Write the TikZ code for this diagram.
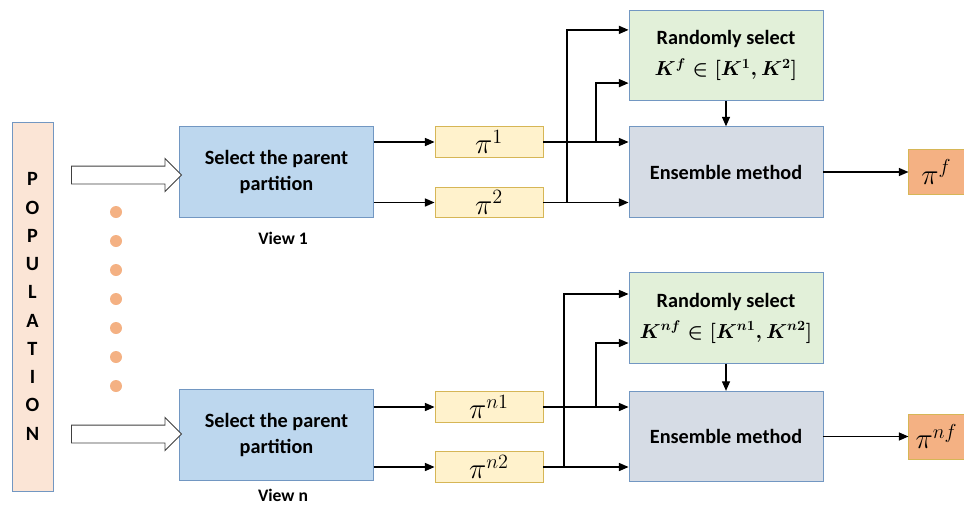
\documentclass[tikz,border=0pt]{standalone}
\usepackage{fontspec}
\setmainfont{Carlito}
\usetikzlibrary{positioning,arrows.meta,shapes.arrows}

\definecolor{popfill}{HTML}{FBE5D6}
\definecolor{selfill}{HTML}{BDD7EE}
\definecolor{pifill}{HTML}{FFF2CC}
\definecolor{rndfill}{HTML}{E2F0D9}
\definecolor{ensfill}{HTML}{D6DCE5}
\definecolor{outfill}{HTML}{F4B183}
\definecolor{blueline}{HTML}{7297C2}
\definecolor{goldline}{HTML}{D6B656}

\begin{document}
\begin{tikzpicture}[
  x=0.025cm, y=-0.025cm,
  box/.style={
    draw=blueline,
    line width=0.6pt,
    align=center,
    font=\Large\bfseries,
    minimum width=4.85cm,
    minimum height=2.26cm,
    inner sep=0pt
  },
  pibox/.style={
    draw=goldline,
    line width=0.6pt,
    fill=pifill,
    minimum width=2.7cm,
    minimum height=0.77cm,
    font=\huge,
    inner sep=0pt
  },
  outbox/.style={
    draw=goldline,
    line width=0.6pt,
    fill=outfill,
    minimum width=1.375cm,
    minimum height=1.125cm,
    font=\huge,
    inner sep=0pt
  },
  hollow/.style={
    shape=single arrow,
    draw=black!75,
    fill=white,
    line width=0.6pt,
    inner xsep=0pt,
    inner ysep=0.2125cm,
    minimum height=2.75cm,
    single arrow head extend=0.19cm
  },
  viewlabel/.style={font=\fontsize{12.5}{14}\selectfont\bfseries},
  conn/.style={-{Triangle[length=2.4mm,width=2mm]}, line width=1pt, draw=black}
]
\useasboundingbox (0,0) rectangle (964,506);

% population column
\node[draw=blueline, line width=0.6pt, fill=popfill, minimum width=1.025cm,
  minimum height=9.225cm, inner sep=0pt, align=center,
  font=\fontsize{14.4}{20.1}\selectfont\bfseries] (pop) at (32.5,306.5)
  {P\\O\\P\\U\\L\\A\\T\\I\\O\\N};

% dots between the two views
\foreach \y in {212,241,...,387}
  \fill[outfill] (116,\y) circle (0.15cm);

% view 1
\node[box, fill=selfill] (sel1) at (276.5,172) {Select the parent\\partition};
\node[viewlabel] (view1) at (283,238) {View 1};
\node[hollow] (in1) at (122,175) {};
\node[pibox] (pi1) at (489,142) {$\pi^1$};
\node[pibox] (pi2) at (489,202.5) {$\pi^2$};
\node[box, fill=rndfill] (rnd1) at (726,55.5)
  {Randomly select\\[4pt]{\boldmath$K^f\in[K^1,K^2]$}};
\node[box, fill=ensfill] (ens1) at (726,172) {Ensemble method};
\node[outbox, right=2.125cm of ens1] (out1) {$\pi^f$};

% view n
\node[box, fill=selfill] (seln) at (276.5,435) {Select the parent\\partition};
\node[viewlabel] (viewn) at (283,495) {View n};
\node[hollow] (inn) at (122,434) {};
\node[pibox] (pin1) at (489,407) {$\pi^{n1}$};
\node[pibox] (pin2) at (489,467) {$\pi^{n2}$};
\node[box, fill=rndfill] (rndn) at (726,318)
  {Randomly select\\[4pt]{\boldmath$K^{nf}\in[K^{n1},K^{n2}]$}};
\node[box, fill=ensfill] (ensn) at (726,436.5) {Ensemble method};
\node[outbox, right=2.125cm of ensn] (outn) {$\pi^{nf}$};

% split points
\coordinate (s1) at (567,202.5);
\coordinate (t1) at (596,142);
\coordinate (sn) at (564,467);
\coordinate (tn) at (596,407);

% arrows, view 1
\draw[conn] (sel1.east |- pi1) -- (pi1);
\draw[conn] (sel1.east |- pi2) -- (pi2);
\draw[conn] (pi1) -- (ens1.west |- pi1);
\draw[conn] (pi2) -- (ens1.west |- pi2);
\draw[conn] (s1) |- ([yshift=0.64cm]rnd1.west);
\draw[conn] (t1) |- ([yshift=-0.69cm]rnd1.west);
\draw[conn] (rnd1) -- (ens1);
\draw[conn] (ens1) -- (out1);

% arrows, view n
\draw[conn] (seln.east |- pin1) -- (pin1);
\draw[conn] (seln.east |- pin2) -- (pin2);
\draw[conn] (pin1) -- (ensn.west |- pin1);
\draw[conn] (pin2) -- (ensn.west |- pin2);
\draw[conn] (sn) |- ([yshift=0.6cm]rndn.west);
\draw[conn] (tn) |- ([yshift=-0.625cm]rndn.west);
\draw[conn] (rndn) -- (ensn);
\draw[conn] (ensn) -- (outn);
\end{tikzpicture}
\end{document}
